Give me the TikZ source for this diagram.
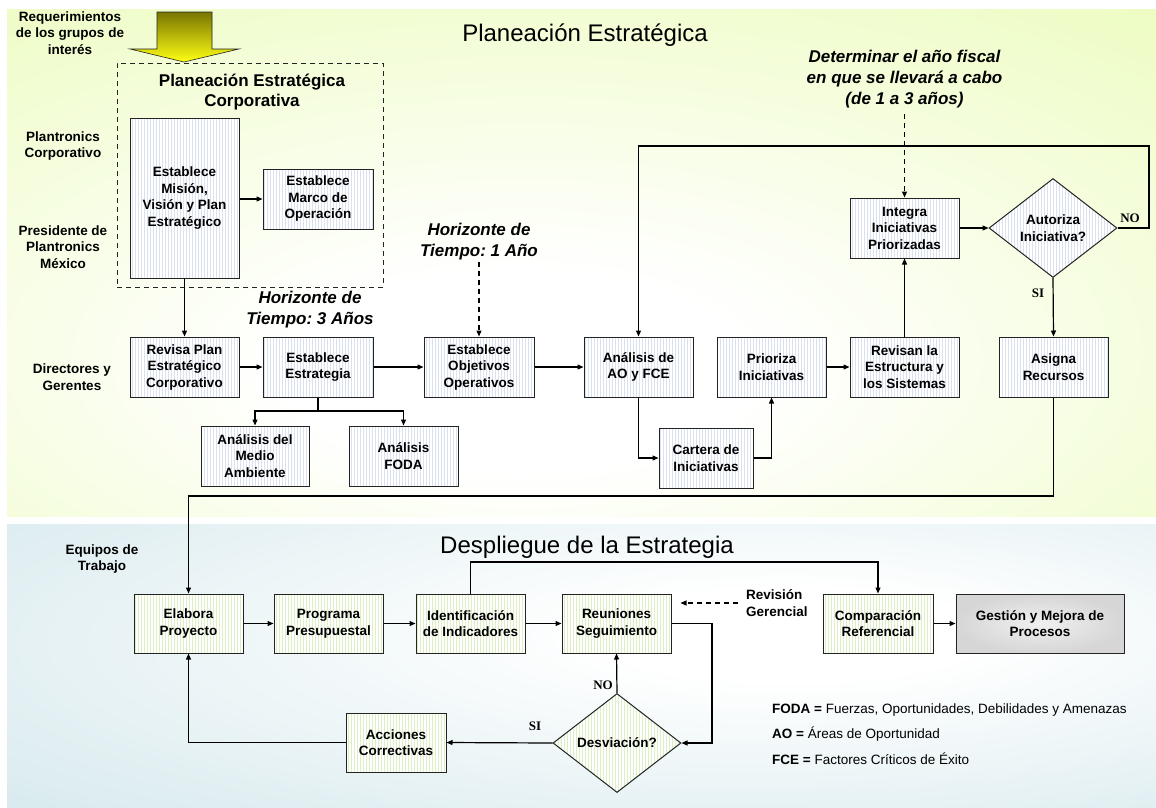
\documentclass[tikz,border=0pt]{standalone}
\usepackage{fontspec}
\setmainfont{Liberation Sans}
\newfontfamily\labelserif{Liberation Serif}
\usetikzlibrary{arrows.meta,shapes.geometric,patterns,calc}
\frenchspacing

\definecolor{panelTop}{RGB}{237,252,194}
\definecolor{panelBot}{RGB}{214,233,237}
\definecolor{stripeTop}{RGB}{218,225,239}
\definecolor{stripeBot}{RGB}{220,240,196}
\definecolor{edgecol}{RGB}{35,35,35}
\definecolor{arrowTop}{RGB}{120,118,0}
\definecolor{arrowBot}{RGB}{255,255,20}

% soft glows behind the two process bands
\pgfdeclareradialshading{topglow}{\pgfpoint{-3bp}{-12bp}}{color(0bp)=(white); color(10bp)=(white); color(42bp)=(panelTop); color(95bp)=(panelTop)}
\pgfdeclareradialshading{botglow}{\pgfpoint{10bp}{6bp}}{color(0bp)=(white); color(8bp)=(white); color(44bp)=(panelBot); color(95bp)=(panelBot)}

\newcommand\boxfont{\bfseries\fontsize{13.5}{16.5}\selectfont}
\newcommand\headfont{\bfseries\itshape\fontsize{17}{21}\selectfont}

\tikzset{
  box/.style={draw=edgecol, line width=1pt, preaction={fill=white},
    pattern=vertical lines, align=center, font=\boxfont, inner sep=2pt,
    minimum width=109pt, minimum height=60pt},
  topbox/.style={box, pattern color=stripeTop},
  botbox/.style={box, pattern color=stripeBot},
  decision/.style={box, diamond, aspect=1.3, minimum width=128pt, minimum height=99pt, inner sep=0pt},
  conn/.style={line width=1.2pt, draw=black, -{Triangle[length=6pt,width=5pt]}},
  plainline/.style={line width=1.2pt, draw=black},
  dashconn/.style={conn, dash pattern=on 5pt off 4pt},
  sidelabel/.style={align=center, font=\boxfont, inner sep=1pt},
  headnote/.style={align=center, font=\headfont, inner sep=1pt},
  title/.style={font=\fontsize{24}{28}\selectfont, inner sep=1pt},
  yesno/.style={font=\labelserif\bfseries\fontsize{13}{15}\selectfont, inner sep=1pt},
  legend/.style={anchor=west, font=\fontsize{13.5}{15}\selectfont, inner sep=0pt},
}

\begin{document}
\begin{tikzpicture}[x=1pt, y=-1pt]
\useasboundingbox (0,0) rectangle (1156,807);

% background bands
\shade[shading=topglow] (7,9) rectangle (1156,516);
\shade[shading=botglow] (7,524) rectangle (1156,807);

% band titles
\node[title] (ttop) at (585,35) {Planeación Estratégica};
\node[title] (tbot) at (587,547) {Despliegue de la Estrategia};

% level labels
\node[sidelabel] (req) at (70,33) {Requerimientos\\de los grupos de\\interés};
\node[sidelabel] (corp) at (63,146) {Plantronics\\Corporativo};
\node[sidelabel] (pres) at (63,247) {Presidente de\\Plantronics\\México};
\node[sidelabel] (dirs) at (72,377) {Directores y\\Gerentes};
\node[sidelabel] (equipos) at (102,559) {Equipos de\\Trabajo};

% corporate planning frame
\node[draw=edgecol, line width=0.9pt, dash pattern=on 5pt off 4pt,
      minimum width=266pt, minimum height=224pt, inner sep=0pt] (corpframe) at (250,175) {};
\node[align=center, font=\bfseries\fontsize{17}{20}\selectfont, inner sep=1pt] (corptitle) at (252,92)
  {Planeación Estratégica\\Corporativa};

% stakeholder input arrow
\draw[draw=edgecol, line width=0.6pt, top color=arrowTop, bottom color=arrowBot]
  (157,12) -- (212,12) -- (212,49) -- (239,49) -- (184,62) -- (130,49) -- (157,49) -- cycle;

% strategic planning boxes
\node[topbox, minimum height=160pt] (mision) at (184.5,198) {Establece\\Misión,\\Visión y Plan\\Estratégico};
\node[topbox, minimum width=110pt] (marco) at (318,199) {Establece\\Marco de\\Operación};
\node[topbox] (revisa) at (184.5,367) {Revisa Plan\\Estratégico\\Corporativo};
\node[topbox, minimum width=110pt] (estrategia) at (318,367) {Establece\\Estrategia};
\node[topbox, minimum width=108pt] (medio) at (255,456) {Análisis del\\Medio\\Ambiente};
\node[topbox] (foda) at (403.5,456) {Análisis\\FODA};
\node[topbox, minimum width=110pt] (objetivos) at (479,367) {Establece\\Objetivos\\Operativos};
\node[topbox] (aofce) at (638.5,367) {Análisis de\\AO y FCE};
\node[topbox, minimum width=94pt] (cartera) at (706,458) {Cartera de\\Iniciativas};
\node[topbox] (prioriza) at (771.5,367) {Prioriza\\Iniciativas};
\node[topbox] (revisan) at (904.5,367) {Revisan la\\Estructura y\\los Sistemas};
\node[topbox] (integra) at (904.5,228) {Integra\\Iniciativas\\Priorizadas};
\node[decision, pattern color=stripeTop] (autoriza) at (1053,228) {Autoriza\\Iniciativa?};
\node[topbox] (asigna) at (1053.5,367) {Asigna\\Recursos};

% notes
\node[headnote] (hor3) at (310,310) {Horizonte de\\Tiempo: 3 Años};
\node[headnote] (hor1) at (479,242) {Horizonte de\\Tiempo: 1 Año};
\node[headnote] (fiscal) at (904.5,79) {Determinar el año fiscal\\en que se llevará a cabo\\(de 1 a 3 años)};

% deployment boxes
\node[botbox, minimum height=59pt] (elabora) at (188.5,623.5) {Elabora\\Proyecto};
\node[botbox, minimum height=59pt] (programa) at (328.5,623.5) {Programa\\Presupuestal};
\node[botbox, minimum height=59pt] (identif) at (470.5,623.5) {Identificación\\de Indicadores};
\node[botbox, minimum height=59pt] (reuniones) at (616.5,623.5) {Reuniones\\Seguimiento};
\node[botbox, minimum height=59pt, minimum width=110pt] (comparacion) at (878,623.5) {Comparación\\Referencial};
\node[draw=edgecol, line width=1pt, inner color=gray!12, outer color=gray!32, align=center,
      font=\boxfont, minimum width=168pt, minimum height=59pt] (gestion) at (1040,623.5) {Gestión y Mejora de\\Procesos};
\node[decision, pattern color=stripeBot] (desviacion) at (617,743) {Desviación?};
\node[botbox, minimum width=100pt, minimum height=59pt] (acciones) at (396,742.5) {Acciones\\Correctivas};
\node[sidelabel, align=left, anchor=west] (revgen) at (745,603) {Revisión\\Gerencial};

% legend
\node[legend] (leg1) at (772,710) {\textbf{FODA =} Fuerzas, Oportunidades, Debilidades y Amenazas};
\node[legend] (leg2) at (772,734) {\textbf{AO =} Áreas de Oportunidad};
\node[legend] (leg3) at (772,759) {\textbf{FCE =} Factores Críticos de Éxito};

% turning points of routed connectors
\coordinate (split) at (318,411);
\coordinate (loopR) at (1149,146);
\coordinate (drop) at (1053.5,496);
\coordinate (topB) at (470.5,562);
\coordinate (rightB) at (712,623.5);

% strategic planning flow
\draw[conn] (mision.east |- marco.west) -- (marco.west);
\draw[conn] (mision.south) -- (revisa.north);
\draw[conn] (revisa.east) -- (estrategia.west);
\draw[conn] (estrategia.east) -- (objetivos.west);
\draw[plainline] (estrategia.south) -- (split);
\draw[conn] (split) -| (medio.north);
\draw[conn] (split) -| (foda.north);
\draw[conn] (objetivos.east) -- (aofce.west);
\draw[conn] (aofce.south) |- (cartera.west);
\draw[conn] (cartera.east) -| (prioriza.south);
\draw[conn] (prioriza.east) -- (revisan.west);
\draw[conn] (revisan.north) -- (integra.south);
\draw[conn] (integra.east) -- (autoriza.west);
\draw[conn] (autoriza.east) -| (loopR) -| (aofce.north);
\draw[conn] (autoriza.south) -- (asigna.north);
\draw[conn] (asigna.south) -- (drop) -| (elabora.north);
\draw[dashconn] (hor1.south) -- (objetivos.north);
\draw[dashconn] (fiscal.south) ++(0,5) -- (integra.north);
\node[yesno] (noA) at (1130,218) {NO};
\node[yesno] (siA) at (1038,293) {SI};

% deployment flow
\draw[conn] (elabora.east) -- (programa.west);
\draw[conn] (programa.east) -- (identif.west);
\draw[conn] (identif.east) -- (reuniones.west);
\draw[conn] (comparacion.east) -- (gestion.west);
\draw[conn] (identif.north) -- (topB) -| (comparacion.north);
\draw[conn] (reuniones.east) -- (rightB) |- (desviacion.east);
\draw[conn] (desviacion.north) -- (reuniones.south);
\draw[conn] (desviacion.west) -- (acciones.east);
\draw[conn] (acciones.west) -| (elabora.south);
\draw[dashconn, shorten <=7pt, shorten >=9pt] (revgen.west) -- (reuniones.east |- revgen.west);
\node[yesno] (noB) at (603,685) {NO};
\node[yesno] (siB) at (535,726) {SI};
\end{tikzpicture}
\end{document}
